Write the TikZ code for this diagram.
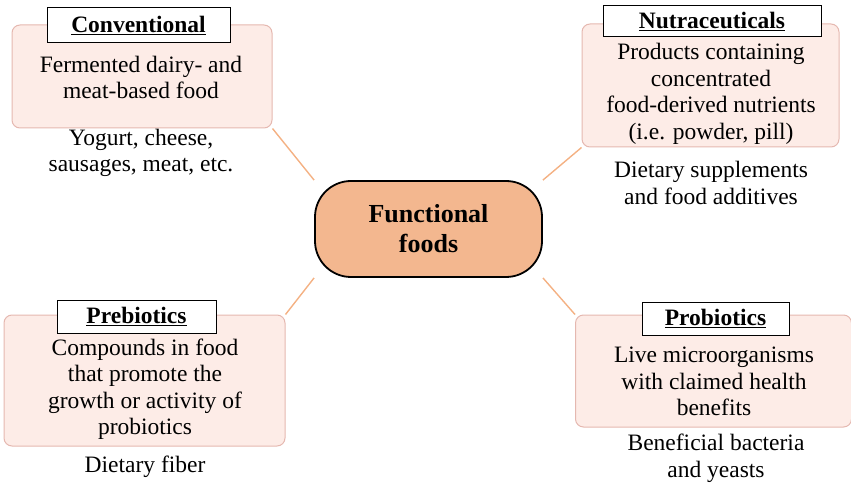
\documentclass[tikz,border=0pt]{standalone}
\usepackage{fontspec}
\setmainfont{Liberation Serif}
\usepackage{tikz}
\usetikzlibrary{shapes,positioning,calc,backgrounds}
\definecolor{boxfill}{HTML}{FDECE7}
\definecolor{boxline}{HTML}{E5B8B0}
\definecolor{hubfill}{HTML}{F3B78F}
\definecolor{linkline}{HTML}{F4B183}

\begin{document}
\fontsize{23.5}{26.5}\selectfont
\begin{tikzpicture}[x=1pt,y=-1pt,
    catbox/.style={draw=boxline, fill=boxfill, rounded corners=8pt, line width=1pt},
    titlebox/.style={draw, fill=white, line width=1pt, font=\bfseries, inner sep=0pt},
    txt/.style={align=center, inner sep=0pt},
    link/.style={draw=linkline, line width=1.4pt}]
    \useasboundingbox (0,0) rectangle (851,486);

    % Hub
    \node[draw, fill=hubfill, line width=1.8pt, rounded corners=36pt,
          minimum width=227pt, minimum height=96pt, align=center,
          font=\fontsize{26}{30}\selectfont\bfseries] (hub) at (428.5,229) {Functional\\foods};

    % Conventional
    \node[catbox, minimum width=260pt, minimum height=103pt] (conv) at (142,76.5) {};
    \node[titlebox, minimum width=183pt, minimum height=35pt] (convtitle) at (138.5,25.5) {\underline{Conventional}};
    \node[txt] (convtext) at (141,77.5) {Fermented dairy- and\\meat-based food};
    \node[txt] (convex) at (141,153) {Yogurt, cheese,\\sausages, meat, etc.};

    % Nutraceuticals
    \node[catbox, minimum width=257pt, minimum height=123pt] (nutra) at (710.5,85.5) {};
    \node[titlebox, minimum width=218pt, minimum height=31pt] (nutratitle) at (712,21.5) {\underline{Nutraceuticals}};
    \node[txt] (nutratext) at (711,94) {Products containing\\concentrated\\food-derived nutrients\\(i.e. powder, pill)};
    \node[txt] (nutraex) at (711,183) {Dietary supplements\\and food additives};

    % Prebiotics
    \node[catbox, minimum width=281pt, minimum height=131pt] (prebio) at (144.5,380.5) {};
    \node[titlebox, minimum width=159pt, minimum height=33pt] (prebiotitle) at (136.5,316.5) {\underline{Prebiotics}};
    \node[txt] (prebiotext) at (145,389) {Compounds in food\\that promote the\\growth or activity of\\probiotics};
    \node[txt] (prebioex) at (145,467) {Dietary fiber};

    % Probiotics
    \node[catbox, minimum width=276pt, minimum height=112pt] (probio) at (713.5,371) {};
    \node[titlebox, minimum width=147pt, minimum height=33pt] (probiotitle) at (715.5,318.5) {\underline{Probiotics}};
    \node[txt] (probiotext) at (714,381.5) {Live microorganisms\\with claimed health\\benefits};
    \node[txt] (probioex) at (716,458.5) {Beneficial bacteria\\and yeasts};

    % Links
    \begin{scope}[on background layer]
        \draw[link] (conv.south east) -- (hub.north west);
        \draw[link] (nutra.south west) -- (hub.north east);
        \draw[link] (prebio.north east) -- (hub.south west);
        \draw[link] (probio.north west) -- (hub.south east);
    \end{scope}
\end{tikzpicture}
\end{document}
